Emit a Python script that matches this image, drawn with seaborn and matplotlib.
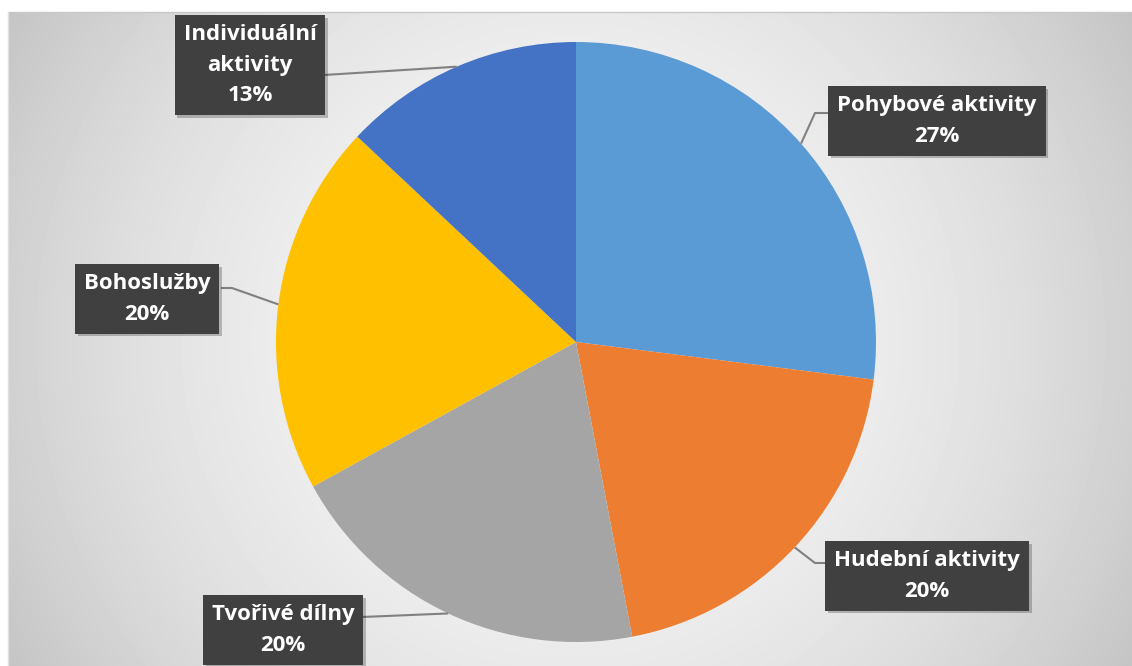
import numpy as np
import matplotlib
matplotlib.use('Agg')
import matplotlib.pyplot as plt
import matplotlib.patheffects as pe
import seaborn as sns

sns.set_style("white")
plt.rcParams['font.family'] = ['Open Sans', 'DejaVu Sans']

# data
categories = ['Pohybové aktivity', 'Hudební aktivity', 'Tvořivé dílny',
              'Bohoslužby', 'Individuální\naktivity']
percents = [27, 20, 20, 20, 13]
colors = ['#5B9BD5', '#ED7D31', '#A5A5A5', '#FFC000', '#4472C4']

W, H = 1132, 666

# layout in pixels (top-down y)
pie_center = (576, 342)
pie_radius = 300
label_pos = [(937, 121), (927, 576), (283, 630), (147, 299), (250, 65)]
# leader line points from the pie edge towards the box
leader_pts = [[(815, 113), (828, 113)],
              [(815, 563), (826, 563)],
              [(362, 617)],
              [(232, 288), (221, 288)],
              [(324, 75)]]

fig = plt.figure(figsize=(W / 100, H / 100), dpi=100)
fig.patch.set_facecolor('white')
ax = fig.add_axes([0, 0, 1, 1])

# radial gradient background of the chart area
x0, y_top = 8, 12
xx, yy = np.meshgrid(np.arange(x0, W), np.arange(y_top, H))
d = np.hypot(xx - 570, yy - 340) / 650
grad = np.clip(246 - 50 * d ** 2, 190, 250) / 255
ax.imshow(grad, cmap='gray', vmin=0, vmax=1, extent=(x0, W, 0, H - y_top),
          origin='upper', zorder=0, interpolation='bilinear')
ax.plot([x0, W], [H - y_top, H - y_top], color='#c8c8c8', lw=1, zorder=1)
ax.plot([x0, x0], [0, H - y_top], color='#e0e0e0', lw=1, zorder=1)

cx, cy = pie_center[0], H - pie_center[1]
wedges, _ = ax.pie(percents, colors=colors, startangle=90, counterclock=False,
                   center=(cx, cy), radius=pie_radius,
                   wedgeprops=dict(linewidth=0))
for w in wedges:
    w.set_zorder(2)

total = sum(percents)
cum = 0
for i, (name, p) in enumerate(zip(categories, percents)):
    mid = np.deg2rad(90 - 360 * (cum + p / 2) / total)
    cum += p
    ax_pt = (cx + pie_radius * np.cos(mid), cy + pie_radius * np.sin(mid))
    pts = [ax_pt] + [(x, H - y) for x, y in leader_pts[i]]
    xs, ys = zip(*pts)
    ax.plot(xs, ys, color='#808080', lw=1.5, zorder=3, solid_capstyle='butt')

    lx, ly = label_pos[i]
    t = ax.text(lx, H - ly, f'{name}\n{p}%', ha='center', va='center',
                multialignment='center', color='white', fontsize=16,
                fontweight='bold', linespacing=1.6, zorder=5,
                bbox=dict(boxstyle='square,pad=0.4', facecolor='#404040',
                          edgecolor='none'))
    t.get_bbox_patch().set_path_effects(
        [pe.SimplePatchShadow(offset=(2, -2), alpha=0.25), pe.Normal()])

ax.set_xlim(0, W)
ax.set_ylim(0, H)
ax.set_aspect('auto')
ax.axis('off')

fig.savefig('out.png', dpi=100)
